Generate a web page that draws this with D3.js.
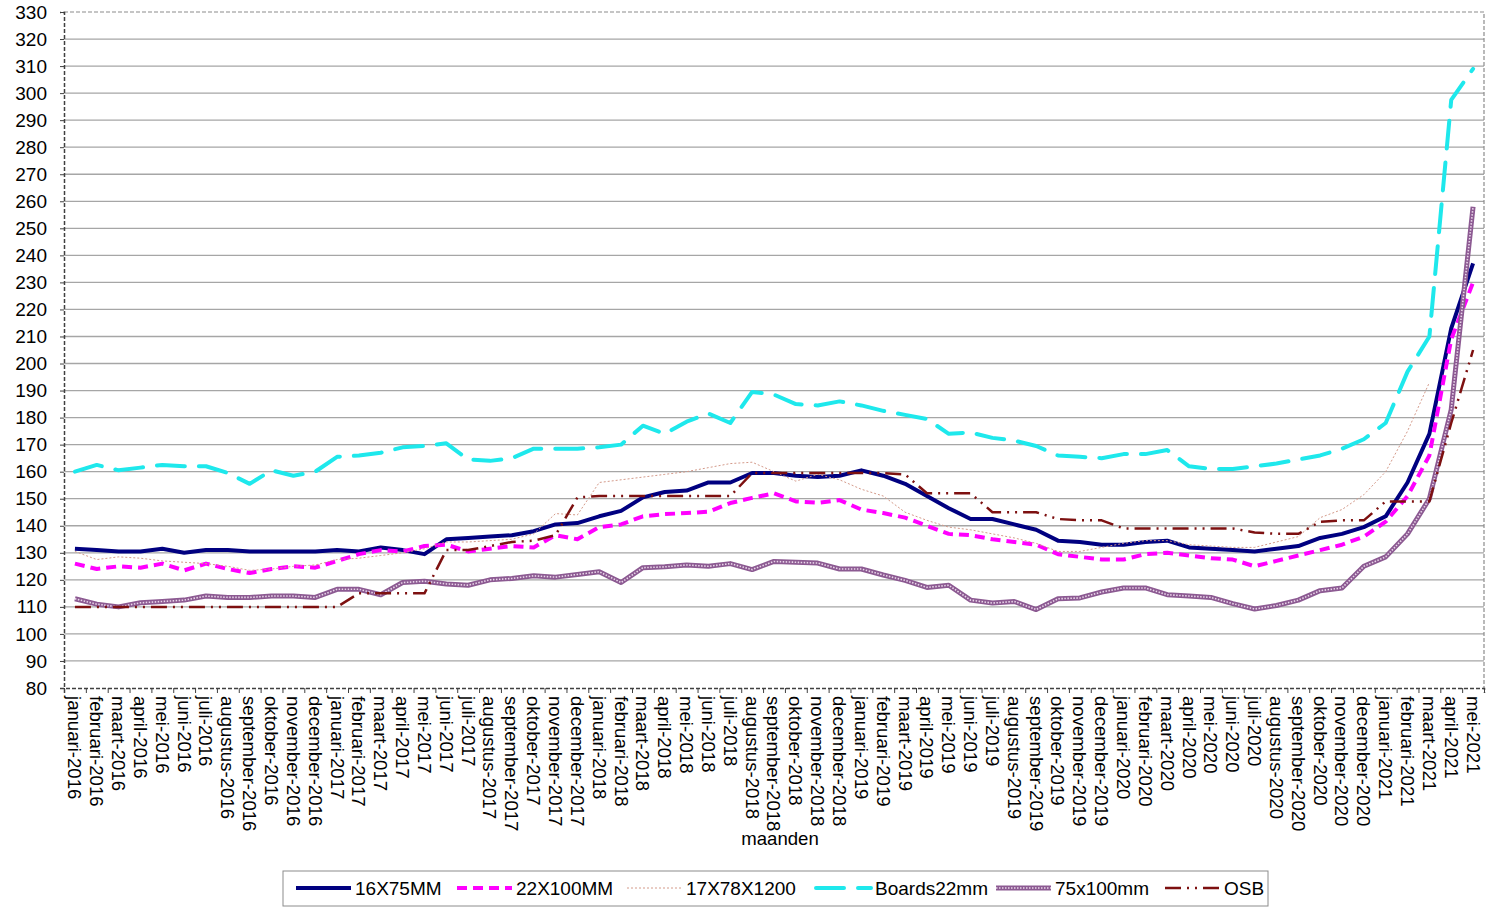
<!DOCTYPE html>
<html>
<head>
<meta charset="utf-8">
<script src="https://cdn.jsdelivr.net/npm/d3@7"></script>
<style>
  body { margin: 0; background: #fff; }
  svg { display: block; font-family: "Liberation Sans", Arial, sans-serif; }
</style>
</head>
<body>
<div id="container"></div>
<script>
const monthNames = ['januari', 'februari', 'maart', 'april', 'mei', 'juni', 'juli',
  'augustus', 'september', 'oktober', 'november', 'december'];
const months = [];
for (let yr = 2016; yr <= 2021; yr++) {
  monthNames.forEach((m, i) => { if (yr < 2021 || i < 5) months.push(`${m}-${yr}`); });
}

const yTicks = [80, 90, 100, 110, 120, 130, 140, 150, 160, 170, 180, 190, 200, 210, 220, 230,
  240, 250, 260, 270, 280, 290, 300, 310, 320, 330];

const s16x75 = [131.5, 131, 130.5, 130.5, 131.5, 130, 131, 131, 130.5, 130.5, 130.5, 130.5, 131,
  130.5, 132, 131, 129.5, 135, 135.5, 136, 136.5, 138, 140.5, 141, 143.5, 145.5, 150.5, 152.5,
  153, 156, 156, 159.5, 159.5, 158.5, 158, 158.5, 160.5, 158.5, 155.5, 151, 146.5, 142.5, 142.5,
  140.5, 138.5, 134.5, 134, 133, 133, 134, 134.5, 132, 131.5, 131, 130.5, 131.5, 132.5, 135.5,
  137, 139.5, 143.5, 156, 174, 213, 237];

const s22x100 = [126, 124, 125, 124.5, 126, 123.5, 126, 124, 122.5, 124, 125, 124.5, 127, 129.5,
  131, 130.5, 132.5, 133, 130.5, 131.5, 132.5, 132, 136.5, 135, 139.5, 140.5, 143.5, 144.3,
  144.7, 145.2, 148.4, 150.3, 152, 149, 148.5, 149.5, 146, 144.7, 143, 140, 137, 136.5, 135,
  134, 133, 129.5, 128.5, 127.5, 127.5, 129.5, 130, 129, 128, 127.5, 125, 127, 129, 131, 133,
  136, 141.5, 151, 166, 209, 230];

const s17x78 = [130.5, 127.5, 128.5, 128, 127, 126.5, 126, 125, 123.5, 124, 125, 125.5, 127.5,
  128, 129, 130, 131.5, 134, 134, 134.5, 135, 137, 144.5, 144, 156, 157, 158, 159, 160, 161.5,
  163, 163.5, 160, 156.5, 159, 157, 153.5, 151, 145, 142, 139.5, 138.5, 137, 135.5, 133.5,
  130.5, 130.5, 132, 133.5, 134.5, 134.5, 133, 132.5, 132, 132, 134, 136, 143, 146, 151.5,
  160, 175, 193, null, null];

const sBoards = [160, 162.5, 160.5, 161.5, 162.5, 162, 162, 159.5, 155.5, 160.5, 158.5, 160,
  165.5, 166, 167, 169, 169.5, 170.5, 164.5, 164, 165, 168.5, 168.5, 168.5, 169, 170, 177, 174,
  178.5, 181.5, 178, 189.5, 188.5, 185, 184.5, 186, 184.5, 182.5, 181, 179.5, 174, 174.5,
  172.5, 171.5, 169.5, 166, 165.5, 165, 166.5, 166.5, 168, 162, 161, 161, 162, 163, 164.5,
  166, 168.5, 172, 178, 197, 210, 297.5, 309];

const s75x100 = [113, 111, 110, 111.5, 112, 112.5, 114, 113.5, 113.5, 114, 114, 113.5, 116.5,
  116.5, 114.5, 119, 119.5, 118.5, 118, 120, 120.5, 121.5, 121, 122, 123, 119, 124.5, 124.8,
  125.5, 125, 126, 123.8, 126.8, 126.5, 126.2, 124, 124, 121.8, 119.8, 117.2, 118, 112.5,
  111.4, 112, 109, 113, 113.3, 115.5, 117, 117, 114.5, 114, 113.5, 111.2, 109.2, 110.5, 112.5,
  116, 117, 125, 128.5, 137, 150, 183, 258];

const sOSB = [110, 110, 110, 110, 110, 110, 110, 110, 110, 110, 110, 110, 110, 115, 115, 115,
  115, 131, 131, 132.5, 134, 134.5, 136.5, 150.5, 151, 151, 151, 151, 151, 151, 151, 159.5,
  159.5, 159.5, 159.5, 159.5, 159.5, 159.5, 159, 152, 152, 152, 145, 145, 145, 142.5, 142, 142,
  139, 139, 139, 139, 139, 139, 137.5, 137, 137, 141.5, 142, 142, 149, 149, 149, 178, 205];

const seriesNames = ['16X75MM', '22X100MM', '17X78X1200', 'Boards22mm', '75x100mm', 'OSB'];

const series = [
  { name: seriesNames[0], values: s16x75, color: '#000080', width: 4, dash: null },
  { name: seriesNames[1], values: s22x100, color: '#ff00ff', width: 4, dash: '10,6' },
  { name: seriesNames[2], values: s17x78, color: '#d49a8a', width: 1, dash: '2,2' },
  { name: seriesNames[3], values: sBoards, color: '#1ee8ec', width: 4, dash: '28,14', cap: 'round' },
  { name: seriesNames[4], values: s75x100, color: '#8c5a92', width: 5, dash: null, texture: '#ead6ea' },
  { name: seriesNames[5], values: sOSB, color: '#7d1010', width: 2.5, dash: '16,6,2,6,2,6' }
];

const W = 1486, H = 907;
const margin = { top: 12, right: 2, bottom: 219, left: 64 };
const plotW = W - margin.left - margin.right;
const plotH = H - margin.top - margin.bottom;

const svg = d3.select('#container').append('svg')
  .attr('width', W)
  .attr('height', H);

const g = svg.append('g')
  .attr('transform', `translate(${margin.left}, ${margin.top})`);

const x = d3.scaleBand().domain(months).range([0, plotW]).padding(0);
const xIdx = d3.scaleLinear().domain([0, months.length]).range([0, plotW]);
const y = d3.scaleLinear().domain([80, 330]).range([plotH, 0]);
const cx = (m) => x(m) + x.bandwidth() / 2;

// grid lines
g.append('g').selectAll('line')
  .data(yTicks.filter(v => v > 80 && v < 330)).enter()
  .append('line')
  .attr('x1', 0).attr('x2', plotW)
  .attr('y1', d => y(d)).attr('y2', d => y(d))
  .attr('stroke', '#a6a6a6')
  .attr('stroke-width', 1.3);

// plot border (top and right dashed)
g.append('path')
  .attr('d', `M0,0H${plotW}V${plotH}`)
  .attr('fill', 'none')
  .attr('stroke', '#8c8c8c')
  .attr('stroke-width', 1.2)
  .attr('stroke-dasharray', '4,2');

// y axis
const yAxis = g.append('g')
  .call(d3.axisLeft(y).tickValues(yTicks).tickSize(4).tickPadding(13));
yAxis.select('.domain').attr('stroke', '#404040').attr('stroke-width', 1.5).attr('stroke-dasharray', '4,2');
yAxis.selectAll('.tick line').attr('stroke', '#404040');
yAxis.selectAll('text').style('font-size', '19px').attr('fill', '#000');

// x axis: boundary ticks + rotated labels
const xTicks = g.append('g')
  .attr('transform', `translate(0, ${plotH})`)
  .call(d3.axisBottom(xIdx).tickValues(d3.range(0, months.length + 1)).tickSize(5).tickFormat(''));
xTicks.select('.domain').attr('stroke', '#404040').attr('stroke-width', 1.5).attr('stroke-dasharray', '4,2');
xTicks.selectAll('.tick line').attr('stroke', '#404040');

g.append('g').selectAll('text')
  .data(months).enter()
  .append('text')
  .attr('transform', d => `translate(${cx(d)}, ${plotH + 8}) rotate(90)`)
  .attr('dy', '0.35em')
  .style('font-size', '18.6px')
  .attr('text-anchor', 'start')
  .text(d => d);

svg.append('text')
  .attr('x', 780)
  .attr('y', 845)
  .attr('text-anchor', 'middle')
  .style('font-size', '18.6px')
  .text('maanden');

// lines
const line = (vals) => d3.line()
  .defined((d, i) => vals[i] != null)
  .x((d, i) => cx(months[i]))
  .y((d, i) => y(vals[i]))(vals);

series.forEach(s => {
  g.append('path')
    .attr('d', line(s.values))
    .attr('fill', 'none')
    .attr('stroke', s.color)
    .attr('stroke-width', s.width)
    .attr('stroke-linejoin', 'round')
    .attr('stroke-linecap', s.cap || 'butt')
    .attr('stroke-dasharray', s.dash);
  if (s.texture) {
    g.append('path')
      .attr('d', line(s.values))
      .attr('fill', 'none')
      .attr('stroke', s.texture)
      .attr('stroke-width', 1.6)
      .attr('stroke-dasharray', '1.5,1.5');
  }
});

// legend
const legendSampleX = [296, 457, 627, 816, 996, 1165];
const legend = svg.append('g');
legend.append('rect')
  .attr('x', 283).attr('y', 871)
  .attr('width', 985).attr('height', 35)
  .attr('fill', '#fff')
  .attr('stroke', '#8c8c8c');

series.forEach((s, i) => {
  const lx = legendSampleX[i];
  legend.append('line')
    .attr('x1', lx).attr('x2', lx + 55)
    .attr('y1', 888).attr('y2', 888)
    .attr('stroke', s.color)
    .attr('stroke-width', s.width)
    .attr('stroke-linecap', s.cap || 'butt')
    .attr('stroke-dasharray', s.dash);
  if (s.texture) {
    legend.append('line')
      .attr('x1', lx).attr('x2', lx + 55)
      .attr('y1', 888).attr('y2', 888)
      .attr('stroke', s.texture)
      .attr('stroke-width', 1.6)
      .attr('stroke-dasharray', '1.5,1.5');
  }
  legend.append('text')
    .attr('x', lx + 59)
    .attr('y', 888)
    .attr('dy', '0.35em')
    .style('font-size', '19px')
    .text(s.name);
});
</script>
</body>
</html>
